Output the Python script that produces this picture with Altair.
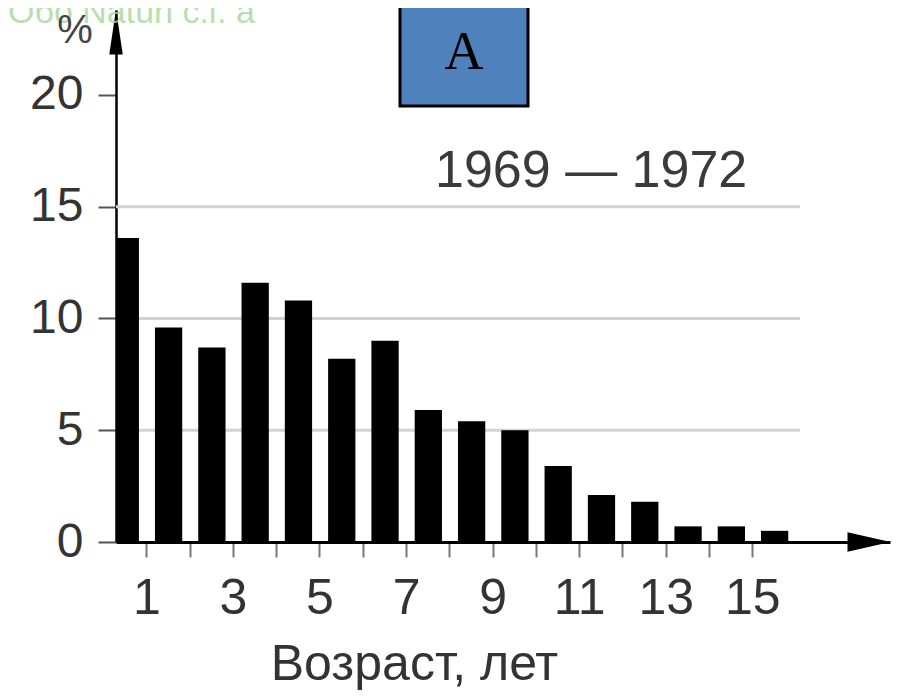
import altair as alt
import pandas as pd

# ---- data ----
ages = list(range(1, 17))  # age group upper bound (years)
shares = [13.6, 9.6, 8.7, 11.6, 10.8, 8.2, 9.0, 5.9, 5.4, 5.0, 3.4, 2.1, 1.8, 0.7, 0.7, 0.5]
x_tick_values = list(range(1, 16))
y_tick_values = [0, 5, 10, 15, 20]
grid_values = [5, 10, 15]
period_label = "1969 — 1972"
x_title = "Возраст, лет"
y_unit = "%"
panel_letter = "A"
watermark = "Обо Naturl с.г. а"

W, H = 774, 532
FONT = "Liberation Sans"

df = pd.DataFrame({"age": ages, "share": shares})
grid_df = pd.DataFrame({"v": grid_values})

x_scale = alt.Scale(domain=[0.3, 18.18], nice=False, zero=False)
y_scale = alt.Scale(domain=[0, 23.8], nice=False)

grid = alt.Chart(grid_df).mark_rule(color="#d2d2d2", strokeWidth=3).encode(
    y=alt.Y("v:Q", scale=y_scale),
    x=alt.value(0),
    x2=alt.value(684),
)

bars = alt.Chart(df).transform_calculate(
    x0="datum.age - 0.8", x1="datum.age - 0.17"
).mark_rect(color="black", clip=True).encode(
    x=alt.X(
        "x0:Q",
        scale=x_scale,
        axis=alt.Axis(
            values=x_tick_values,
            labelExpr="datum.value % 2 == 1 ? datum.label : ''",
            title=x_title,
            grid=False,
            domainColor="black",
            domainWidth=3,
            tickColor="#777",
            tickWidth=2,
            tickSize=15,
            labelFont=FONT,
            labelFontSize=50,
            labelColor="#333",
            labelBaseline="alphabetic",
            labelPadding=56,
            labelFlush=False,
            labelOverlap=False,
            titleFont=FONT,
            titleFontSize=50,
            titleFontWeight="normal",
            titleColor="#333",
            titleX=298,
            titleY=137,
            titleAlign="center",
            titleBaseline="alphabetic",
        ),
    ),
    x2="x1:Q",
    y=alt.Y(
        "share:Q",
        scale=y_scale,
        axis=alt.Axis(
            values=y_tick_values,
            title=None,
            grid=False,
            domainColor="black",
            domainWidth=2.5,
            tickColor="#555",
            tickWidth=2,
            tickSize=18,
            labelFont=FONT,
            labelFontSize=48,
            labelColor="#333",
            labelPadding=15,
        ),
    ),
    y2=alt.datum(0),
)

one = pd.DataFrame({"k": [0]})

y_arrow = alt.Chart(one).mark_point(
    shape="M0,-1L0.3,1L-0.3,1Z", filled=True, color="black", opacity=1, size=2025
).encode(x=alt.value(0), y=alt.value(22))

x_arrow = alt.Chart(one).mark_point(
    shape="M1,0L-1,-0.45L-1,0.45Z", filled=True, color="black", opacity=1, size=1849
).encode(x=alt.value(753), y=alt.value(H))

period = alt.Chart(pd.DataFrame({"t": [period_label]})).mark_text(
    font=FONT, fontSize=52, color="#3a3a3a", align="left", baseline="alphabetic"
).encode(x=alt.value(319), y=alt.value(177), text="t:N")

unit = alt.Chart(pd.DataFrame({"t": [y_unit]})).mark_text(
    font=FONT, fontSize=40, color="#444", align="center", baseline="alphabetic"
).encode(x=alt.value(-41), y=alt.value(33), text="t:N")

wm = alt.Chart(pd.DataFrame({"t": [watermark]})).mark_text(
    font=FONT, fontSize=34, color="#a6d89a", align="left", baseline="alphabetic", opacity=0.8
).encode(x=alt.value(-108), y=alt.value(13), text="t:N")

box = alt.Chart(one).mark_rect(
    color="#4F81BD", stroke="black", strokeWidth=3
).encode(x=alt.value(284), x2=alt.value(412), y=alt.value(-30), y2=alt.value(96))

letter = alt.Chart(pd.DataFrame({"t": [panel_letter]})).mark_text(
    font="Liberation Serif", fontSize=54, color="black", align="center", baseline="alphabetic"
).encode(x=alt.value(348), y=alt.value(59), text="t:N")

chart = alt.layer(grid, bars, y_arrow, x_arrow, period, wm, unit, box, letter).properties(
    width=W,
    height=H,
    autosize=alt.AutoSizeParams(type="none"),
    padding={"left": 108, "top": 2, "right": 1, "bottom": 152},
    background="white",
).configure_view(stroke=None)

chart.save("out.html", embed_options={"renderer": "svg", "actions": False})
